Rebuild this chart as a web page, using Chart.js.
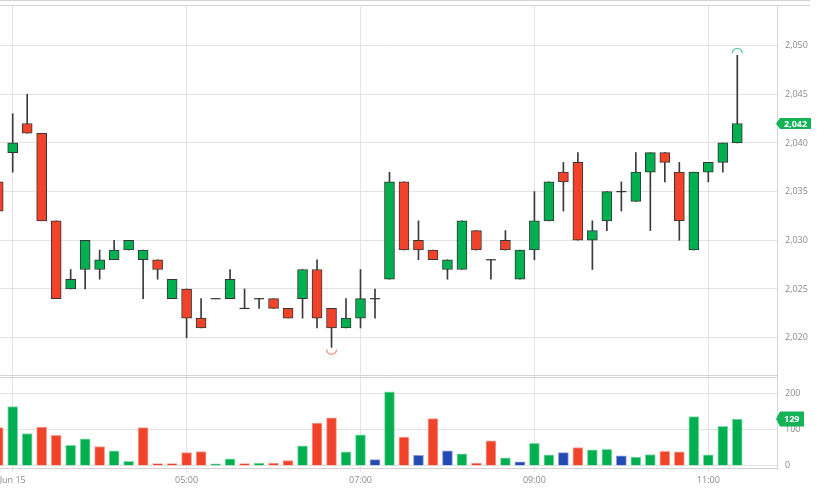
<!DOCTYPE html>
<html><head><meta charset="utf-8">
<script src="https://cdn.jsdelivr.net/npm/chart.js@4.4.1/dist/chart.umd.min.js"></script>
<style>html,body{margin:0;padding:0;background:#fff;overflow:hidden}#wrap{width:839px;height:503px;position:relative}</style>
</head><body><div id="wrap"><canvas id="c" width="839" height="503"></canvas></div>
<script>
// ---- data (10-minute candles; index 0 = "Jun 15" gridline) ----
const candleIndex = [-1,0,1,2,3,4,5,6,7,8,9,10,11,12,13,14,15,16,17,18,19,20,21,22,23,24,25,26,27,28,29,30,31,32,33,34,35,36,37,38,39,40,41,42,43,44,45,46,47,48,49,50];
const opens  = [2036,2039,2042,2041,2032,2025,2027,2027,2028,2029,2028,2028,2024,2025,2022,2024,2024,2023,2024,2024,2023,2024,2027,2023,2021,2022,2024,2026,2036,2030,2029,2027,2027,2031,2028,2030,2026,2029,2032,2037,2038,2030,2032,2035,2034,2037,2039,2037,2029,2037,2038,2040];
const highs  = [2036,2043,2045,2041,2032,2027,2030,2029,2030,2030,2029,2028,2026,2025,2024,2024,2027,2025,2024,2024,2023,2027,2028,2023,2024,2027,2025,2037,2036,2032,2029,2028,2032,2031,2028,2031,2029,2035,2036,2038,2039,2032,2035,2036,2039,2039,2039,2038,2037,2038,2040,2049];
const lows   = [2033,2037,2041,2032,2024,2025,2025,2026,2028,2029,2024,2026,2024,2020,2021,2024,2024,2023,2023,2023,2022,2022,2021,2019,2021,2021,2022,2026,2029,2028,2028,2026,2027,2029,2026,2029,2026,2028,2032,2033,2030,2027,2031,2033,2034,2031,2036,2030,2029,2036,2037,2040];
const closes = [2033,2040,2041,2032,2024,2026,2030,2028,2029,2030,2029,2027,2026,2022,2021,2024,2026,2023,2024,2023,2022,2027,2022,2021,2022,2024,2024,2036,2029,2029,2028,2028,2032,2029,2028,2029,2029,2032,2036,2036,2030,2031,2035,2035,2037,2039,2038,2032,2037,2038,2040,2042];
const volumes = [105,163,89,107,84,56,74,53,41,12,105,6,6,36,39,5,19,6,7,7,14,55,118,132,38,85,17,204,79,29,130,41,33,7,69,22,11,62,30,36,50,44,45,27,24,31,40,38,136,30,109,129];
const volumeSide = ['d','u','u','d','d','u','u','d','u','u','d','d','d','d','d','u','u','d','u','d','d','u','d','d','u','u','n','u','d','n','d','n','u','d','d','u','n','u','u','n','d','u','u','n','u','u','d','d','u','u','u','u'];
const timeTickIndex  = [0,12,24,36,48];
const timeTickLabels = ['Jun 15','05:00','07:00','09:00','11:00'];
const priceTicks  = [2020,2025,2030,2035,2040,2045,2050];
const volumeTicks = [0,100,200];

// ---- styles ----
const UP = '#00b050', DOWN = '#f0432a', NEUTRAL = '#2349b5';
const VOL_FILL = {u: UP, d: DOWN, n: NEUTRAL};
const VOL_EDGE = {u: '#86dcaa', d: '#f7a291', n: '#8a9bd8'};
const GRID = '#e3e3e3', FRAME = '#d4d4d4', TICK = '#8a8a8a';
const FONT = '"Open Sans", "DejaVu Sans", sans-serif';

const fmt = v => v.toLocaleString('en-US');

const dojiPoints = candleIndex.map((x, k) => opens[k] === closes[k] ? {x, y: closes[k]} : null).filter(p => p);

const framePlugin = {
  id: 'frame',
  beforeDatasetsDraw(chart) {
    const ctx = chart.ctx, y = chart.scales.y, v = chart.scales.v, a = chart.chartArea;
    ctx.save();
    ctx.strokeStyle = FRAME; ctx.lineWidth = 1;
    ctx.beginPath();
    ctx.moveTo(0, 0.5); ctx.lineTo(810, 0.5);
    ctx.moveTo(0, y.top + 0.5); ctx.lineTo(810, y.top + 0.5);
    ctx.moveTo(0, y.bottom - 0.5); ctx.lineTo(a.right, y.bottom - 0.5);
    ctx.moveTo(0, v.top + 1.5); ctx.lineTo(a.right, v.top + 1.5);
    ctx.moveTo(0, v.bottom - 0.5); ctx.lineTo(a.right + 0.5, v.bottom - 0.5);
    ctx.stroke();
    ctx.restore();
  },
  afterDatasetsDraw(chart) {
    const ctx = chart.ctx, xs = chart.scales.x, ys = chart.scales.y;
    let hi = 0, lo = 0;
    highs.forEach((h, k) => { if (h > highs[hi]) hi = k; });
    lows.forEach((l, k) => { if (l < lows[lo]) lo = k; });
    ctx.save();
    ctx.lineWidth = 1.3;
    ctx.strokeStyle = '#5fd193';
    ctx.beginPath();
    ctx.arc(xs.getPixelForValue(candleIndex[hi]), ys.getPixelForValue(highs[hi]) - 2, 5, Math.PI, 2 * Math.PI);
    ctx.stroke();
    ctx.strokeStyle = '#f3907b';
    ctx.beginPath();
    ctx.arc(xs.getPixelForValue(candleIndex[lo]), ys.getPixelForValue(lows[lo]) + 2, 5, 0, Math.PI);
    ctx.stroke();
    ctx.restore();
  },
  afterDraw(chart) {
    const ctx = chart.ctx, a = chart.chartArea;
    const last = closes.length - 1;
    const tag = (yPix, text, h, w) => {
      const x0 = a.right - 1;
      ctx.beginPath();
      ctx.moveTo(x0, yPix);
      ctx.lineTo(x0 + 4, yPix - h / 2);
      ctx.lineTo(x0 + 4 + w, yPix - h / 2);
      ctx.lineTo(x0 + 4 + w, yPix + h / 2);
      ctx.lineTo(x0 + 4, yPix + h / 2);
      ctx.closePath();
      ctx.fillStyle = '#14b358';
      ctx.fill();
      ctx.fillStyle = '#fff';
      ctx.font = 'bold 9px ' + FONT;
      ctx.textAlign = 'left';
      ctx.textBaseline = 'middle';
      ctx.fillText(text, x0 + 8, yPix + 0.5);
    };
    ctx.save();
    tag(chart.scales.y.getPixelForValue(closes[last]), fmt(closes[last]), 11, 31);
    tag(chart.scales.v.getPixelForValue(volumes[last]), fmt(volumes[last]), 15, 24);
    ctx.restore();
  }
};

const fixY = w => (s) => { s.width = w; s.paddingTop = 0; s.paddingBottom = 0; };

new Chart(document.getElementById('c'), {
  data: {
    datasets: [
      { type: 'bar', label: 'wick', yAxisID: 'y', order: 3, grouped: false,
        data: candleIndex.map((x, k) => ({x, y: [lows[k], highs[k]]})),
        backgroundColor: '#3b3b3b', barThickness: 1, borderWidth: 0 },
      { type: 'bar', label: 'body', yAxisID: 'y', order: 2, grouped: false,
        data: candleIndex.map((x, k) => ({x, y: [opens[k], closes[k]]})),
        backgroundColor: candleIndex.map((x, k) => closes[k] >= opens[k] ? UP : DOWN),
        borderColor: '#353535', borderWidth: 1, borderSkipped: false, barThickness: 10 },
      { type: 'line', label: 'doji', yAxisID: 'y', order: 1, data: dojiPoints,
        showLine: false, pointStyle: 'line', pointRadius: 5, pointBorderWidth: 1.2,
        borderColor: '#353535', pointBorderColor: '#353535' },
      { type: 'bar', label: 'volume', yAxisID: 'v', order: 4, grouped: false,
        data: candleIndex.map((x, k) => ({x, y: volumes[k]})),
        backgroundColor: volumeSide.map(s => VOL_FILL[s]),
        borderColor: volumeSide.map(s => VOL_EDGE[s]), borderWidth: 1, barThickness: 10 }
    ]
  },
  options: {
    responsive: false, animation: false, devicePixelRatio: 1,
    layout: {autoPadding: false, padding: {top: 5, left: 0, right: 0, bottom: 0}},
    plugins: {legend: {display: false}, tooltip: {enabled: false}},
    scales: {
      x: {
        type: 'linear', position: 'bottom', min: -0.876, max: 52.74, offset: false,
        afterBuildTicks: s => { s.ticks = timeTickIndex.map(v => ({value: v})); },
        afterFit: s => { s.height = 34; s.paddingLeft = 0; s.paddingRight = 0; },
        ticks: { autoSkip: false, maxRotation: 0, padding: 3, color: TICK,
          font: {family: FONT, size: 9},
          callback: v => timeTickLabels[timeTickIndex.indexOf(v)] },
        grid: {color: GRID, tickLength: 3, drawTicks: true, tickColor: GRID, offset: false},
        border: {display: false}
      },
      y: {
        type: 'linear', position: 'right', stack: 'panes', stackWeight: 371,
        min: 2016.06, max: 2054.17,
        afterBuildTicks: s => { s.ticks = priceTicks.map(v => ({value: v})); },
        afterFit: fixY(62),
        ticks: {padding: 8, color: TICK, font: {family: FONT, size: 9}, callback: v => fmt(v)},
        grid: {color: GRID, drawTicks: false},
        border: {display: true, color: FRAME}
      },
      v: {
        type: 'linear', position: 'right', stack: 'panes', stackWeight: 93,
        min: -9.1, max: 247.8,
        afterBuildTicks: s => { s.ticks = volumeTicks.map(v => ({value: v})); },
        afterFit: fixY(62),
        ticks: {padding: 8, color: TICK, font: {family: FONT, size: 9}, callback: v => fmt(v)},
        grid: {color: GRID, drawTicks: false},
        border: {display: true, color: FRAME}
      }
    }
  },
  plugins: [framePlugin]
});
</script>
</body></html>
